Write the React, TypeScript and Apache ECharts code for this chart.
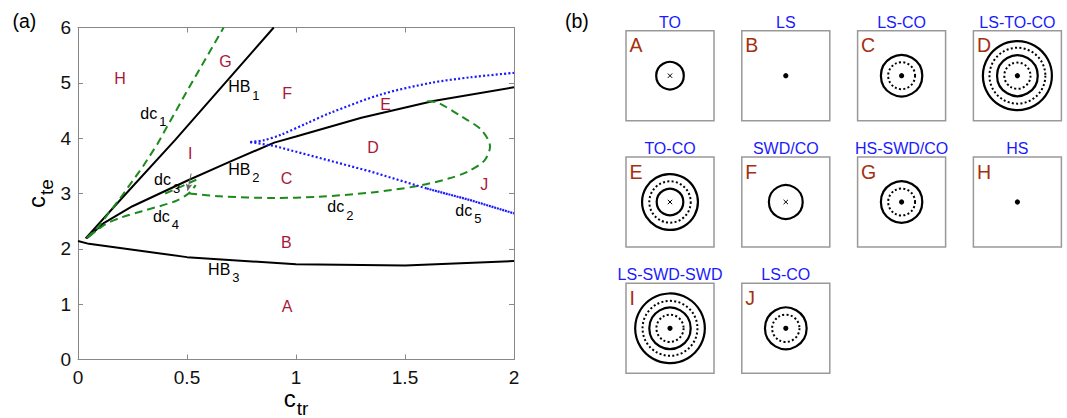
import React, { useEffect, useRef } from "react";
import * as echarts from "echarts";

const FONT = "'Liberation Sans', Arial, Helvetica, sans-serif";

// ---------- panel (a) data ----------
const xMin = 0, xMax = 2, xStep = 0.5;
const yMin = 0, yMax = 6, yStep = 1;

const hb1 = [[0.035, 2.19], [0.2, 2.91], [0.446, 3.97], [0.898, 6.0]];
const hb2 = [[0.04, 2.19], [0.12, 2.47], [0.25, 2.77], [0.5, 3.23], [0.7, 3.58], [0.9, 3.92], [1.0, 4.03], [1.3, 4.37], [1.63, 4.67], [2.0, 4.92]];
const hb3 = [[0.0, 2.14], [0.05, 2.09], [0.5, 1.85], [1.0, 1.72], [1.5, 1.70], [2.0, 1.78]];
const dc1 = [[0.04, 2.2], [0.086, 2.36], [0.2, 2.95], [0.3, 3.5], [0.365, 3.9], [0.5, 4.85], [0.668, 6.0]];
const dc2 = [[0.51, 3.0], [0.65, 2.95], [0.9, 2.92], [1.1, 2.94], [1.35, 3.02], [1.55, 3.13], [1.7, 3.27], [1.79, 3.4], [1.865, 3.6], [1.89, 3.85], [1.85, 4.15], [1.76, 4.39], [1.65, 4.64], [1.59, 4.67]];
const dc3 = [[0.4, 3.0], [0.47, 3.12], [0.555, 3.27]];
const dc4 = [[0.05, 2.22], [0.124, 2.44], [0.2, 2.57], [0.293, 2.68], [0.446, 2.86], [0.507, 3.0], [0.54, 3.15]];
const dc5Upper = [[0.79, 3.93], [0.85, 3.96], [0.93, 4.06], [1.05, 4.27], [1.16, 4.46], [1.39, 4.79], [1.62, 5.0], [1.8, 5.1], [2.0, 5.18]];
const dc5Lower = [[0.79, 3.93], [0.9, 3.86], [1.34, 3.4], [1.6, 3.09]];
const dc5LowerDense = [[1.6, 3.09], [1.8, 2.88], [2.0, 2.64]];
const arrowFrom = [0.519, 3.36];
const arrowTo = [0.503, 3.05];

const regionNames = ["A", "B", "C", "D", "E", "F", "G", "H", "I", "J"];
const regionX = [0.959, 0.956, 0.956, 1.353, 1.411, 0.959, 0.676, 0.193, 0.515, 1.863];
const regionY = [0.96, 2.11, 3.28, 3.83, 4.61, 4.8, 5.38, 5.07, 3.73, 3.16];

const curveMain = ["HB", "HB", "HB", "dc", "dc", "dc", "dc", "dc"];
const curveSub = ["1", "2", "3", "1", "2", "3", "4", "5"];
const curveX = [0.691, 0.691, 0.599, 0.288, 1.146, 0.351, 0.346, 1.733];
const curveY = [4.92, 3.43, 1.62, 4.44, 2.75, 3.24, 2.58, 2.69];

// ---------- panel (b) data ----------
const panelLetters = ["A", "B", "C", "D", "E", "F", "G", "H", "I", "J"];
const panelTitles = ["TO", "LS", "LS-CO", "LS-TO-CO", "TO-CO", "SWD/CO", "HS-SWD/CO", "HS", "LS-SWD-SWD", "LS-CO"];
const panelCenters = ["x", "dot", "dot", "dot", "x", "x", "dot", "dot", "dot", "dot"];
// rings from inner to outer: S = solid, D = dotted
const panelRings = ["S", "", "DS", "DSDS", "SDS", "S", "DS", "", "DSDS", "DS"];
const panelRingAmp = [[2], [], [1.95, 3], [1.9, 2.95, 4.05, 5], [1.93, 3, 4.05], [2.45], [1.95, 3], [], [1.97, 3, 3.98, 5.05], [1.98, 3.02]];

const RED = "#a8183a";
const GREEN = "#1d8a1d";
const BLUE = "#1a1aff";

function buildPanelB(): any[] {
  const els: any[] = [];
  const unit = 6.9;
  for (let i = 0; i < panelLetters.length; i++) {
    const col = i % 4;
    const row = Math.floor(i / 4);
    const left = 626 + col * 115.8;
    const top = 30.7 + row * 126.3;
    const w = 88, h = 90;
    const cx = left + w / 2, cy = top + h / 2;
    els.push({
      type: "rect",
      shape: { x: left, y: top, width: w, height: h },
      style: { fill: "#fff", stroke: "#999", lineWidth: 1.5 },
      silent: true,
    });
    els.push({
      type: "text",
      x: cx,
      y: top - 8.5,
      style: {
        text: panelTitles[i], fill: BLUE, fontSize: 16, fontFamily: FONT,
        align: "center", verticalAlign: "middle", textAlign: "center", textVerticalAlign: "middle",
      },
      silent: true,
    });
    els.push({
      type: "text",
      x: left + 3.5,
      y: top + 14.5,
      style: {
        text: panelLetters[i], fill: "#a3300f", fontSize: 19.5, fontFamily: FONT,
        align: "left", verticalAlign: "middle", textAlign: "left", textVerticalAlign: "middle",
      },
      silent: true,
    });
    const rings = panelRings[i];
    for (let k = 0; k < rings.length; k++) {
      const dotted = rings[k] === "D";
      els.push({
        type: "circle",
        shape: { cx, cy, r: panelRingAmp[i][k] * unit },
        style: dotted
          ? { fill: "none", stroke: "#000", lineWidth: 2, lineDash: [2, 2.3] }
          : { fill: "none", stroke: "#000", lineWidth: 2.2 },
        silent: true,
      });
    }
    if (panelCenters[i] === "dot") {
      els.push({ type: "circle", shape: { cx, cy, r: 2.6 }, style: { fill: "#000" }, silent: true });
    } else {
      const d = 2.2;
      els.push({ type: "line", shape: { x1: cx - d, y1: cy - d, x2: cx + d, y2: cy + d }, style: { stroke: "#000", lineWidth: 1 }, silent: true });
      els.push({ type: "line", shape: { x1: cx - d, y1: cy + d, x2: cx + d, y2: cy - d }, style: { stroke: "#000", lineWidth: 1 }, silent: true });
    }
  }
  els.push({
    type: "text", x: 12.5, y: 21,
    style: { text: "(a)", fill: "#000", fontSize: 19.5, fontFamily: FONT, align: "left", verticalAlign: "middle", textAlign: "left", textVerticalAlign: "middle" },
    silent: true,
  });
  els.push({
    type: "text", x: 565, y: 21,
    style: { text: "(b)", fill: "#000", fontSize: 19.5, fontFamily: FONT, align: "left", verticalAlign: "middle", textAlign: "left", textVerticalAlign: "middle" },
    silent: true,
  });
  return els;
}

const xNameRich = {
  m: { fontSize: 24, fontFamily: FONT, color: "#000", lineHeight: 24, verticalAlign: "top" },
  s: { fontSize: 19, fontFamily: FONT, color: "#000", lineHeight: 19, verticalAlign: "top", padding: [12.5, 0, 0, 1] },
};
const yNameRich = {
  m: { fontSize: 24, fontFamily: FONT, color: "#000", lineHeight: 24, verticalAlign: "top" },
  s: { fontSize: 19, fontFamily: FONT, color: "#000", lineHeight: 19, verticalAlign: "top", padding: [13, 0, 0, 1] },
};

const lineSeries = (data: number[][], color: string, type: any, width: number, smooth: any = false) => ({
  type: "line",
  data,
  showSymbol: false,
  symbol: "none",
  smooth,
  silent: true,
  lineStyle: { color, width, type },
  z: 3,
});

export default function App() {
  const ref = useRef<HTMLDivElement>(null);
  useEffect(() => {
    if (!ref.current) return;
    const chart = echarts.init(ref.current, undefined, { renderer: "svg" });
    const axisLineStyle = { color: "#888", width: 1 };
    const option: any = {
      animation: false,
      textStyle: { fontFamily: FONT },
      grid: { left: 78, top: 27.5, width: 436, height: 332, show: false, containLabel: false, outerBoundsMode: "none" },
      xAxis: [
        {
          type: "value", min: xMin, max: xMax, interval: xStep, position: "bottom",
          axisLine: { show: true, onZero: false, lineStyle: axisLineStyle },
          axisTick: { show: true, inside: true, length: 5, lineStyle: axisLineStyle },
          axisLabel: { color: "#111", fontSize: 19, lineHeight: 16, margin: 10, fontFamily: FONT },
          splitLine: { show: false },
          name: "{m|c}{s|tr}", nameLocation: "middle", nameGap: 27, nameMoveOverlap: false,
          nameTextStyle: { rich: xNameRich },
        },
        {
          type: "value", min: xMin, max: xMax, interval: xStep, position: "top",
          axisLine: { show: true, onZero: false, lineStyle: axisLineStyle },
          axisTick: { show: true, inside: true, length: 5, lineStyle: axisLineStyle },
          axisLabel: { show: false }, splitLine: { show: false },
        },
      ],
      yAxis: [
        {
          type: "value", min: yMin, max: yMax, interval: yStep, position: "left",
          axisLine: { show: true, onZero: false, lineStyle: axisLineStyle },
          axisTick: { show: true, inside: true, length: 5, lineStyle: axisLineStyle },
          axisLabel: { color: "#111", fontSize: 19, margin: 7, fontFamily: FONT },
          splitLine: { show: false },
          name: "{m|c}{s|te}", nameLocation: "middle", nameGap: 30, nameRotate: 90,
          nameTextStyle: { rich: yNameRich },
        },
        {
          type: "value", min: yMin, max: yMax, interval: yStep, position: "right",
          axisLine: { show: true, onZero: false, lineStyle: axisLineStyle },
          axisTick: { show: true, inside: true, length: 5, lineStyle: axisLineStyle },
          axisLabel: { show: false }, splitLine: { show: false },
        },
      ],
      graphic: { elements: buildPanelB() },
      series: [
        lineSeries(hb3, "#000", "solid", 2),
        lineSeries(hb1, "#000", "solid", 2),
        lineSeries(hb2, "#000", "solid", 2),
        lineSeries(dc1, GREEN, [8, 5], 2),
        lineSeries(dc4, GREEN, [8, 5], 2, 0.3),
        {
          ...lineSeries(dc3, GREEN, [8, 5], 2),
          markLine: {
            silent: true,
            symbol: ["none", "arrow"],
            symbolSize: [5, 7],
            lineStyle: { color: "#666", width: 1, type: "solid" },
            label: { show: false },
            data: [[{ coord: arrowFrom }, { coord: arrowTo }]],
          },
        },
        lineSeries(dc2, GREEN, [8, 5], 2, 0.3),
        lineSeries(dc5Upper, BLUE, [2, 2.2], 2.2, 0.3),
        lineSeries(dc5Lower, BLUE, [2, 2.2], 2.2),
        lineSeries(dc5LowerDense, BLUE, [2, 0.8], 2.2),
        {
          type: "scatter",
          silent: true,
          symbolSize: 1,
          itemStyle: { color: "rgba(0,0,0,0)", opacity: 1 },
          data: regionNames.map((n, i) => ({ name: n, value: [regionX[i], regionY[i]] })),
          label: { show: true, position: "inside", formatter: "{b}", color: RED, opacity: 1, fontSize: 16, fontFamily: FONT },
          z: 5,
        },
        {
          type: "scatter",
          silent: true,
          symbolSize: 1,
          itemStyle: { color: "rgba(0,0,0,0)", opacity: 1 },
          data: curveMain.map((n, i) => ({ name: n + curveSub[i], value: [curveX[i], curveY[i]], main: n, sub: curveSub[i] })),
          label: {
            show: true,
            opacity: 1,
            position: [0, 0],
            align: "left",
            verticalAlign: "top",
            offset: [0, -8],
            formatter: (p: any) => `{m|${p.data.main}}{s|${p.data.sub}}`,
            rich: {
              m: { fontSize: 16, fontFamily: FONT, color: "#000", lineHeight: 16, verticalAlign: "top" },
              s: { fontSize: 13, fontFamily: FONT, color: "#000", lineHeight: 13, verticalAlign: "top", padding: [10, 0, 0, 2] },
            },
          },
          z: 5,
        },
      ],
    };
    chart.setOption(option);
    return () => chart.dispose();
  }, []);
  return (
    <div
      ref={ref}
      style={{ position: "fixed", left: 0, top: 0, width: 1067, height: 418, background: "#fff" }}
    />
  );
}
